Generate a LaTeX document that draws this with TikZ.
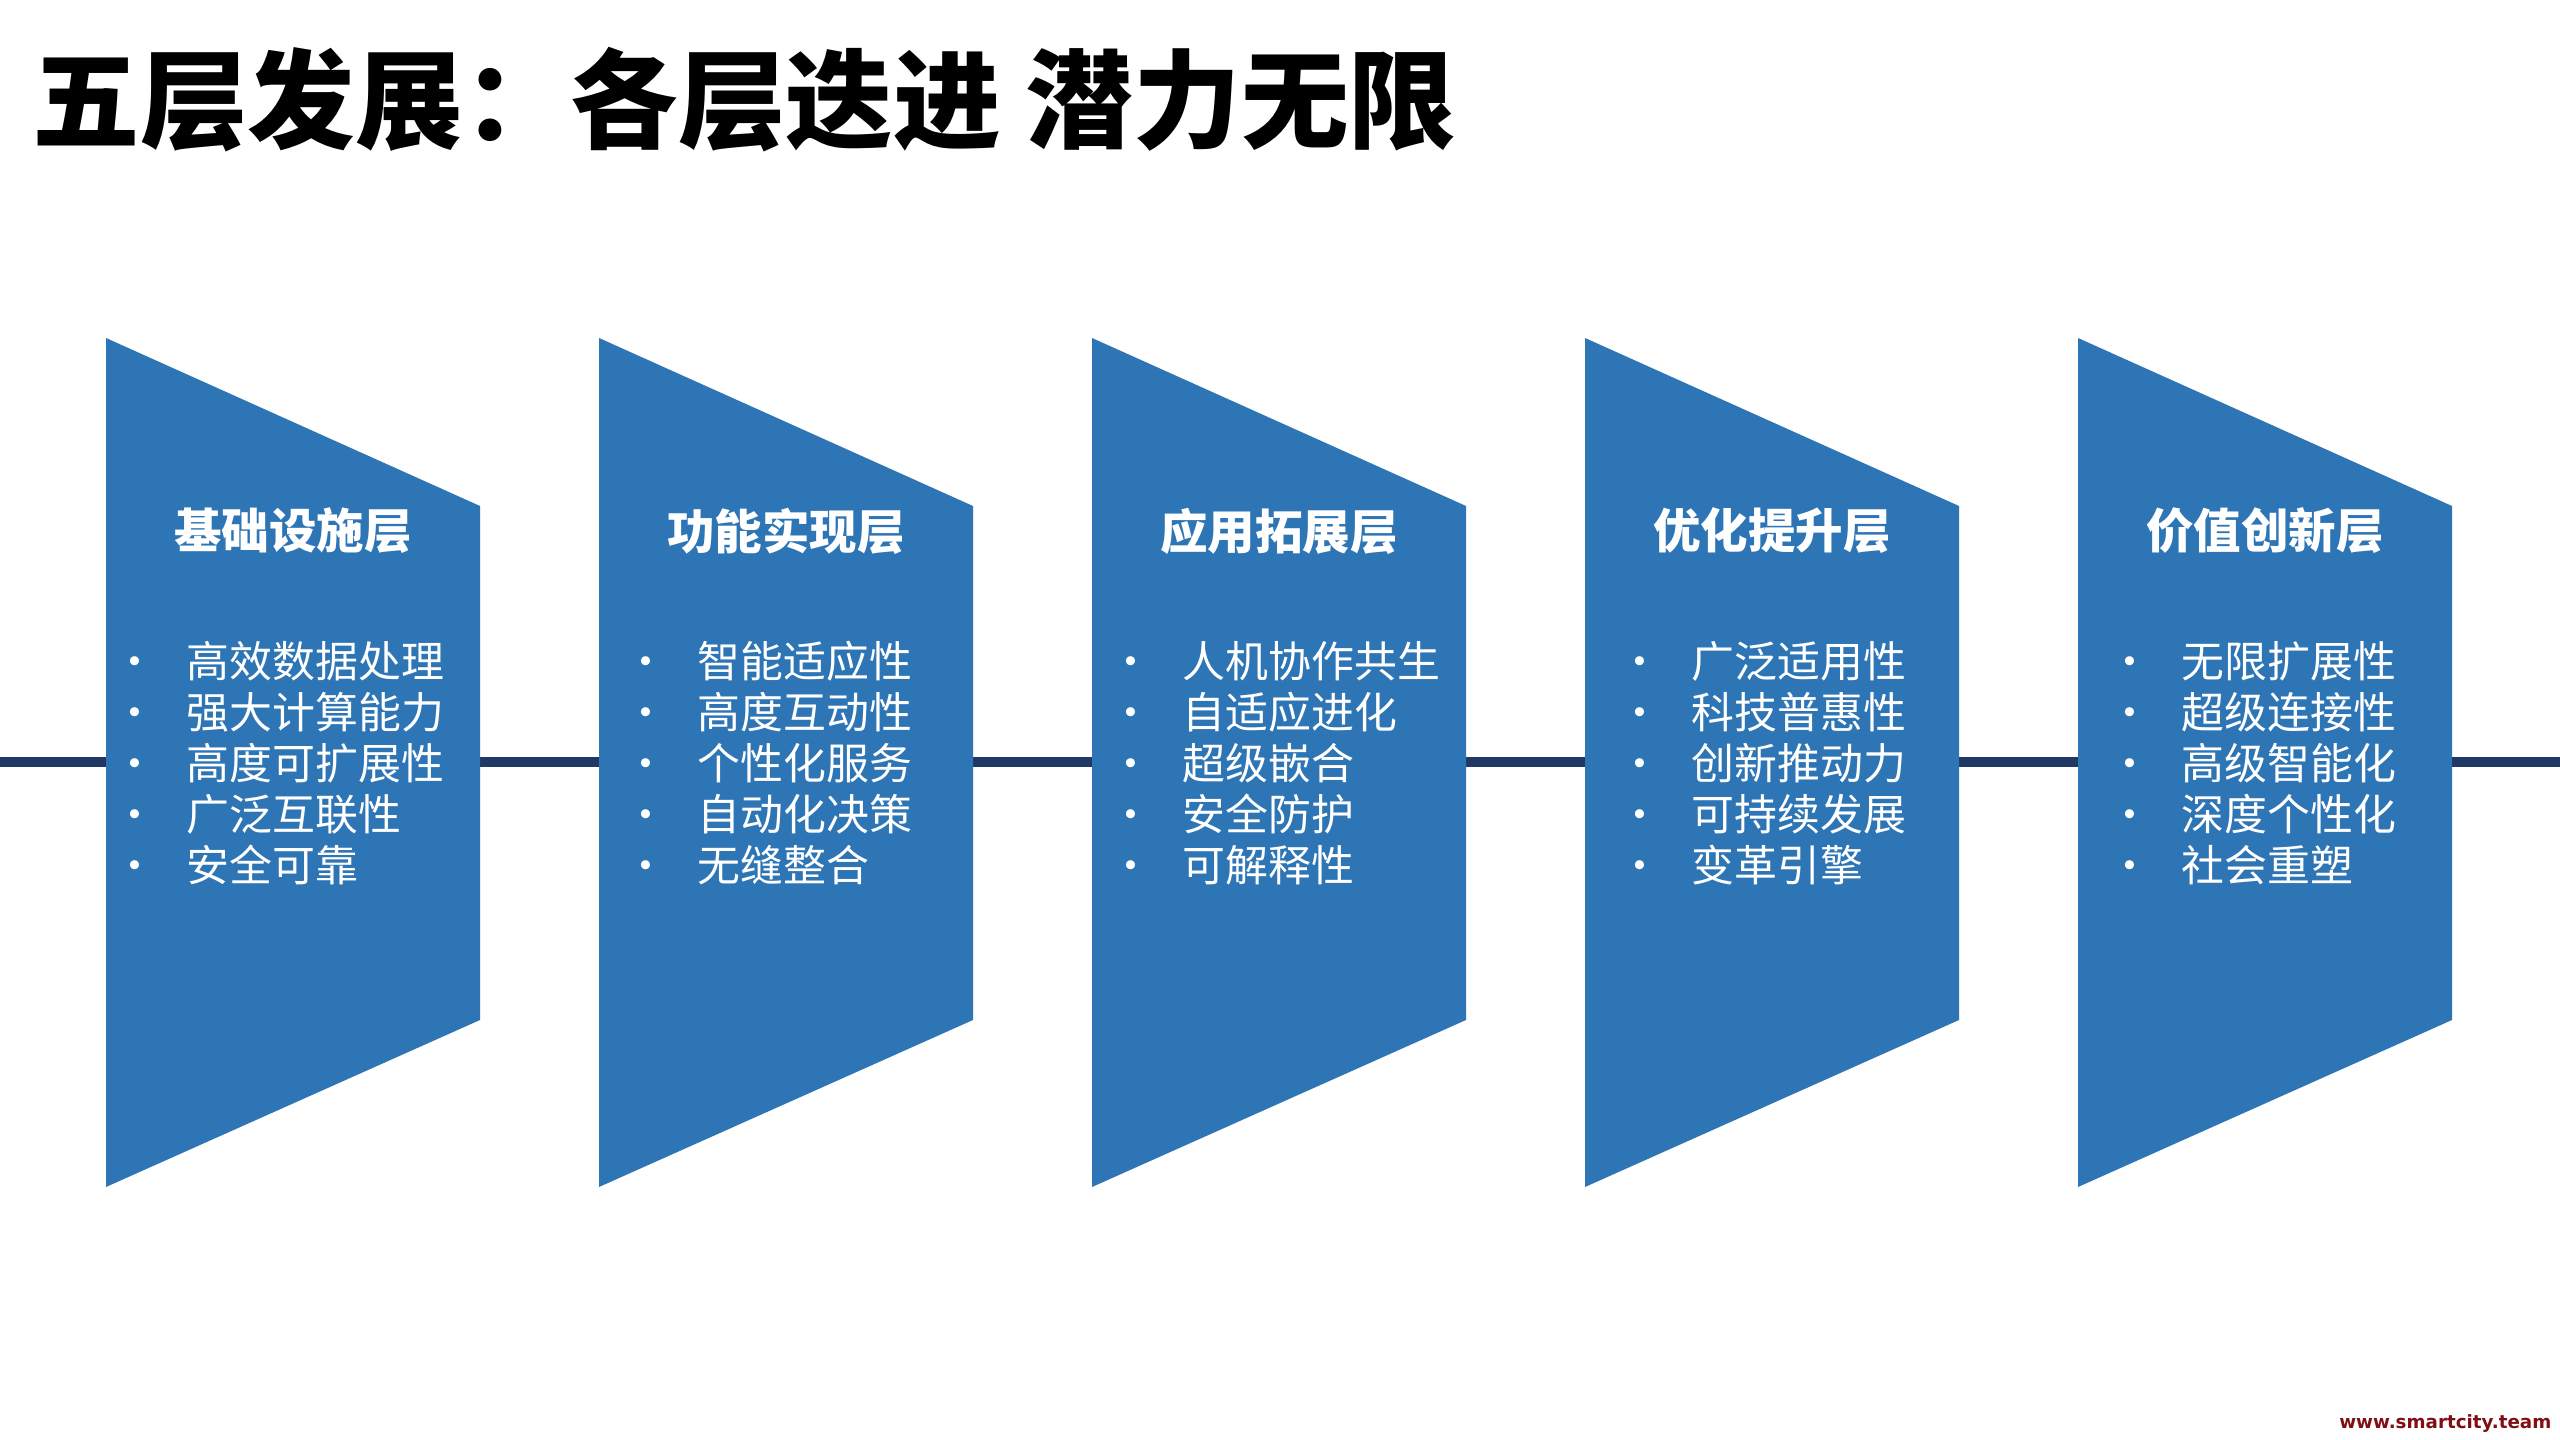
\documentclass[tikz,border=0pt]{standalone}
\usepackage{fontspec}
\setmainfont{Noto Sans CJK SC}
\newfontfamily\urlfont{DejaVu Sans}
\definecolor{layerblue}{HTML}{2E75B6}
\definecolor{axisnavy}{HTML}{1F3864}
\definecolor{urlred}{HTML}{7F0F14}
\tikzset{layer/.style={fill=layerblue},axis/.style={draw=axisnavy,line width=0.09cm},
  heading/.style={text=white,inner sep=0pt,font=\fontsize{13.5pt}{16pt}\selectfont\bfseries},
  item/.style={text=white,inner sep=0pt,anchor=west,font=\fontsize{12.2pt}{14pt}\selectfont}}
\newcommand{\bul}[1]{\makebox[0.73cm][l]{•}#1}

\begin{document}
\begin{tikzpicture}[x=0.01cm,y=-0.01cm]
\fill[white] (0,0) rectangle (2560,1440);
\useasboundingbox (0,0) rectangle (2560,1440);
\node[anchor=west,inner sep=0pt,font=\fontsize{30.6pt}{36pt}\selectfont\bfseries] (title) at (32,100){五层发展：各层迭进 潜力无限};
\coordinate (axis-w) at (0,762);
\coordinate (axis-e) at (2560,762);
\draw[axis] (axis-w)--(axis-e);
\foreach \i/\hd/\tx/\items in {
  0/基础设施层/80/{高效数据处理,强大计算能力,高度可扩展性,广泛互联性,安全可靠},
  1/功能实现层/98/{智能适应性,高度互动性,个性化服务,自动化决策,无缝整合},
  2/应用拓展层/90/{人机协作共生,自适应进化,超级嵌合,安全防护,可解释性},
  3/优化提升层/106/{广泛适用性,科技普惠性,创新推动力,可持续发展,变革引擎},
  4/价值创新层/103/{无限扩展性,超级连接性,高级智能化,深度个性化,社会重塑}}{
  \pgfmathsetmacro\L{106+493*\i}
  \fill[layer] (\L,338)--(\L+374,506)--(\L+374,1020)--(\L,1187)--cycle;
  \node[heading] (hd-\i) at (\L+187,531){\hd};
  \foreach \t [count=\k] in \items
    \node[item] (it-\i-\k) at (\L+\tx-73,661+51*\k-51){\bul{\t}};
}
\node[anchor=east,inner sep=0pt,text=urlred,font=\urlfont\bfseries\fontsize{5.2pt}{6pt}\selectfont] (url) at (2552,1424){www.smartcity.team};
\end{tikzpicture}
\end{document}
